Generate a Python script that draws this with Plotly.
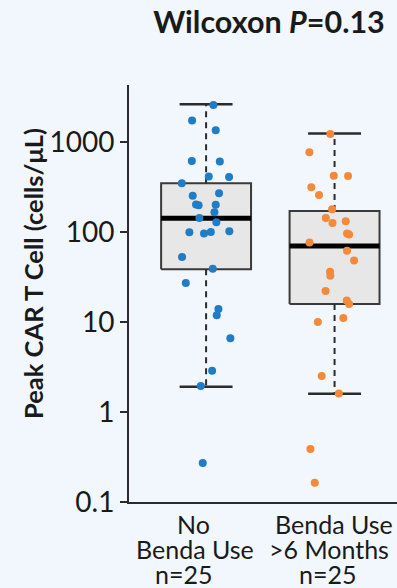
import plotly.graph_objects as go

# ---------------- data ----------------
groups = ["No Benda Use", "Benda Use >6 Months"]
label_lines = [["No", "Benda Use", "n=25"], ["Benda Use", ">6 Months", "n=25"]]

# box statistics (cells/uL)
q1 = [38.5, 15.8]
median = [142, 70]
q3 = [347, 171]
whisker_low = [1.91, 1.59]
whisker_high = [2620, 1240]

# individual patients
no_benda_values = [2577, 1734, 1349, 615, 607, 414, 408, 347, 253, 269, 202, 198,
                   201, 166, 143, 128, 99, 96, 100, 102, 52.8, 39.1, 27.1, 13.9,
                   11.9, 6.59, 2.88, 1.94, 0.271]
no_benda_jitter = [0.057, -0.109, 0.075, -0.111, 0.107, 0.021, 0.179, -0.189, -0.104,
                   0.101, -0.078, -0.058, 0.075, 0.065, -0.052, 0.080, -0.130, -0.016,
                   0.037, 0.181, -0.187, 0.052, -0.158, 0.096, 0.083, 0.189, 0.047,
                   -0.041, -0.026]
benda_values = [1227, 769, 422, 420, 314, 258, 179, 143, 126, 132, 96.2, 93.8, 76.4,
                61.9, 48.2, 36.2, 32.7, 22.1, 17.3, 15.8, 11.1, 10.0, 2.51, 1.60,
                0.388, 0.164]
benda_jitter = [-0.033, -0.196, -0.006, 0.105, -0.181, -0.121, -0.019, -0.068, -0.016,
                0.087, 0.097, 0.113, -0.195, 0.097, 0.152, -0.035, -0.033, -0.070,
                0.095, 0.113, 0.068, -0.130, -0.100, 0.033, -0.188, -0.154]

tick_vals = [0.1, 1, 10, 100, 1000]
tick_text = ["0.1", "1", "10", "100", "1000"]

point_values = [no_benda_values, benda_values]
point_jitter = [no_benda_jitter, benda_jitter]
colors = ["#1f7cc7", "#f5893a"]

# ---------------- styling ----------------
FONT = "Lato"
BG = "#f1f7fc"
BOX_HALF = 0.35
CAP_HALF = 0.206
DARK = "#2b2b2b"

fig = go.Figure()

for i in range(len(groups)):
    c = i
    # box body
    fig.add_trace(go.Scatter(
        x=[c - BOX_HALF, c + BOX_HALF, c + BOX_HALF, c - BOX_HALF, c - BOX_HALF],
        y=[q1[i], q1[i], q3[i], q3[i], q1[i]],
        mode="lines", fill="toself", fillcolor="#e7e7e8",
        line=dict(color="#3a3a3a", width=2), hoverinfo="skip", showlegend=False))
    # dashed whiskers
    for a, b in [(q3[i], whisker_high[i]), (q1[i], whisker_low[i])]:
        fig.add_trace(go.Scatter(
            x=[c, c], y=[a, b], mode="lines",
            line=dict(color=DARK, width=2, dash="6px,5px"),
            hoverinfo="skip", showlegend=False))
    # caps
    for w in [whisker_high[i], whisker_low[i]]:
        fig.add_trace(go.Scatter(
            x=[c - CAP_HALF, c + CAP_HALF], y=[w, w], mode="lines",
            line=dict(color=DARK, width=2.5), hoverinfo="skip", showlegend=False))
    # median
    fig.add_trace(go.Scatter(
        x=[c - BOX_HALF, c + BOX_HALF], y=[median[i], median[i]], mode="lines",
        line=dict(color="#000000", width=5), hoverinfo="skip", showlegend=False))

for i in range(len(groups)):
    fig.add_trace(go.Scatter(
        x=[i + j for j in point_jitter[i]], y=point_values[i], mode="markers",
        marker=dict(color=colors[i], size=8, line=dict(width=0)),
        name=groups[i], showlegend=False))

# category labels
line_y = [524, 549, 574]
label_shift = [[-13, -11, -23], [-1, -6, -7]]
for i in range(len(groups)):
    for k, txt in enumerate(label_lines[i]):
        fig.add_annotation(
            x=i, xref="x", y=(502 - line_y[k]) / 417, yref="paper",
            text=txt, showarrow=False, xanchor="center", yanchor="middle",
            xshift=label_shift[i][k],
            font=dict(family=FONT, size=25, color="#1a1a1a"))

# y-axis title
fig.add_annotation(
    x=(33 - 129) / 268, xref="paper", y=(502 - 274) / 417, yref="paper",
    text="<b>Peak CAR T Cell (cells/μL)</b>", textangle=-90, showarrow=False,
    xanchor="center", yanchor="middle",
    font=dict(family=FONT, size=25.5, color="#1a1a1a"))

fig.update_layout(
    width=397, height=588, autosize=False,
    margin=dict(l=129, r=0, t=85, b=86),
    paper_bgcolor=BG, plot_bgcolor=BG,
    title=dict(text="<b>Wilcoxon <i>P</i>=0.13</b>", xref="container", yref="container",
               x=269 / 397, y=1 - 22 / 588, xanchor="center", yanchor="middle",
               font=dict(family=FONT, size=30.5, color="#1a1a1a")),
    xaxis=dict(range=[-0.6, 1.486], showline=True, linecolor=DARK, linewidth=2,
               showticklabels=False, ticks="", showgrid=False, zeroline=False,
               fixedrange=True),
    yaxis=dict(type="log", range=[-1, 3.633], showline=True, linecolor=DARK,
               linewidth=2, ticks="outside", ticklen=7, tickwidth=2, tickcolor=DARK,
               tickvals=tick_vals, ticktext=tick_text, showgrid=False, zeroline=False,
               tickfont=dict(family=FONT, size=28, color="#1a1a1a")),
)

fig.write_html(
    "out.html",
    config={"displayModeBar": False},
    post_script="document.body.style.margin='0';document.body.style.overflow='hidden';",
)
